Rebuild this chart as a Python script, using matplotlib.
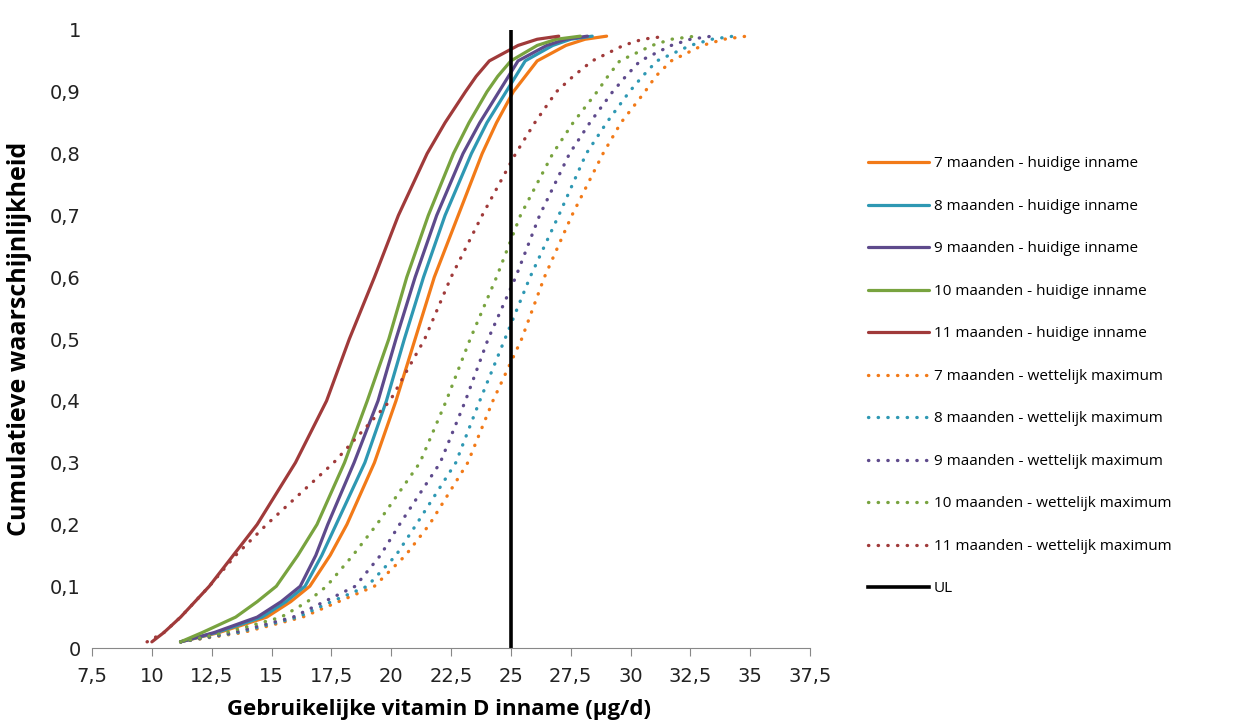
import matplotlib
matplotlib.use("Agg")
import matplotlib.pyplot as plt
from matplotlib.ticker import FuncFormatter, MultipleLocator

# cumulatieve kansen (y) en bijbehorende inname per reeks (x, µg/d)
cum_prob = [0.01, 0.025, 0.05, 0.075, 0.1, 0.15, 0.2, 0.3, 0.4, 0.5, 0.6, 0.7,
            0.8, 0.85, 0.9, 0.925, 0.95, 0.975, 0.985, 0.99]

huidig_7 = [11.2, 12.8, 14.8, 15.8, 16.6, 17.45, 18.15, 19.3, 20.2, 21.0, 21.8, 22.8,
            23.8, 24.4, 25.1, 25.6, 26.1, 27.3, 28.1, 29.0]
huidig_8 = [11.2, 12.7, 14.6, 15.6, 16.4, 17.1, 17.7, 18.9, 19.8, 20.55, 21.35, 22.25,
            23.35, 24.0, 24.8, 25.2, 25.6, 26.75, 27.5, 28.4]
huidig_9 = [11.2, 12.6, 14.4, 15.4, 16.2, 16.85, 17.35, 18.45, 19.45, 20.2, 21.0, 21.9,
            23.0, 23.7, 24.5, 24.9, 25.3, 26.5, 27.3, 28.2]
huidig_10 = [11.2, 12.1, 13.5, 14.4, 15.2, 16.1, 16.9, 18.05, 19.0, 19.9, 20.65, 21.55,
             22.6, 23.25, 24.0, 24.45, 25.0, 26.1, 26.9, 27.9]
huidig_11 = [10.0, 10.5, 11.2, 11.8, 12.4, 13.4, 14.4, 16.0, 17.3, 18.25, 19.3, 20.3,
             21.5, 22.25, 23.1, 23.55, 24.1, 25.3, 26.1, 27.0]

wett_7 = [11.2, 13.8, 16.3, 17.8, 19.3, 20.6, 21.6, 23.2, 24.25, 25.45, 26.4, 27.55,
          28.85, 29.6, 30.6, 31.05, 31.7, 33.0, 33.9, 34.85]
wett_8 = [11.2, 13.6, 16.1, 17.5, 19.0, 20.2, 21.05, 22.7, 23.7, 24.75, 25.8, 27.0,
          28.15, 29.0, 29.95, 30.5, 31.1, 32.5, 33.4, 34.3]
wett_9 = [11.2, 13.4, 15.9, 17.2, 18.5, 19.55, 20.35, 22.05, 23.1, 24.05, 25.2, 26.2,
          27.45, 28.3, 29.25, 29.8, 30.4, 31.7, 32.5, 33.4]
wett_10 = [11.2, 13.1, 15.4, 16.5, 17.3, 18.4, 19.4, 21.2, 22.3, 23.3, 24.4, 25.4,
           26.75, 27.6, 28.6, 29.05, 29.55, 30.9, 31.7, 32.7]
wett_11 = [9.8, 10.5, 11.2, 11.8, 12.4, 13.5, 14.8, 17.6, 19.95, 21.4, 22.5, 23.8,
           25.2, 26.0, 26.9, 27.6, 28.4, 29.7, 30.5, 31.5]

ul_value = 25
maanden = [7, 8, 9, 10, 11]
huidig = [huidig_7, huidig_8, huidig_9, huidig_10, huidig_11]
wettelijk = [wett_7, wett_8, wett_9, wett_10, wett_11]
kleuren = ["#F27A18", "#2E98B3", "#5E4A8C", "#78A33F", "#A03A3A"]

x_ticks = [7.5, 10, 12.5, 15, 17.5, 20, 22.5, 25, 27.5, 30, 32.5, 35, 37.5]

fig = plt.figure(figsize=(12.59, 7.26), dpi=100)
ax = fig.add_axes([0.0731, 0.1074, 0.5703, 0.8513])

# huidige inname: doorgetrokken lijnen
for m, xs, c in zip(maanden, huidig, kleuren):
    ax.plot(xs, cum_prob, color=c, lw=2.3, solid_capstyle="round", solid_joinstyle="round",
            label=f"{m} maanden - huidige inname")

# wettelijk maximum: stippellijnen
for m, xs, c in zip(maanden, wettelijk, kleuren):
    ax.plot(xs, cum_prob, color=c, lw=2.4, linestyle=(0, (0.1, 2.8)),
            dash_capstyle="round", label=f"{m} maanden - wettelijk maximum")

ax.plot([ul_value, ul_value], [0, 1], color="black", lw=2.6, label="UL")

ax.set_xlim(7.5, 37.5)
ax.set_ylim(0, 1)
ax.set_xticks(x_ticks)
ax.yaxis.set_major_locator(MultipleLocator(0.1))

ax.xaxis.set_major_formatter(FuncFormatter(lambda v, pos: f"{v:g}".replace(".", ",")))
ax.yaxis.set_major_formatter(FuncFormatter(lambda v, pos: f"{round(v, 1):g}".replace(".", ",")))

for s in ["top", "right", "left"]:
    ax.spines[s].set_visible(False)
ax.spines["bottom"].set_color("#888888")
ax.tick_params(axis="x", direction="out", length=6, color="#888888", pad=8)
ax.tick_params(axis="y", length=0, pad=8)
for lbl in ax.get_xticklabels() + ax.get_yticklabels():
    lbl.set_fontsize(14)
    lbl.set_color("#222222")

ax.set_xlabel("Gebruikelijke vitamin D inname (µg/d)", fontsize=16, fontweight="bold",
              family=["Open Sans", "DejaVu Sans"])
ax.set_ylabel("Cumulatieve waarschijnlijkheid", fontsize=18, fontweight="bold",
              family=["Open Sans", "DejaVu Sans"])
ax.xaxis.set_label_coords(0.483, -0.083)
ax.yaxis.set_label_coords(-0.084, 0.5)

leg = fig.legend(loc="upper left", bbox_to_anchor=(0.6787, 0.8035), frameon=False,
                 handlelength=4.0, handletextpad=0.3, labelspacing=1.8,
                 prop={"family": "Open Sans", "size": 11})

fig.savefig("out.png", dpi=100)
